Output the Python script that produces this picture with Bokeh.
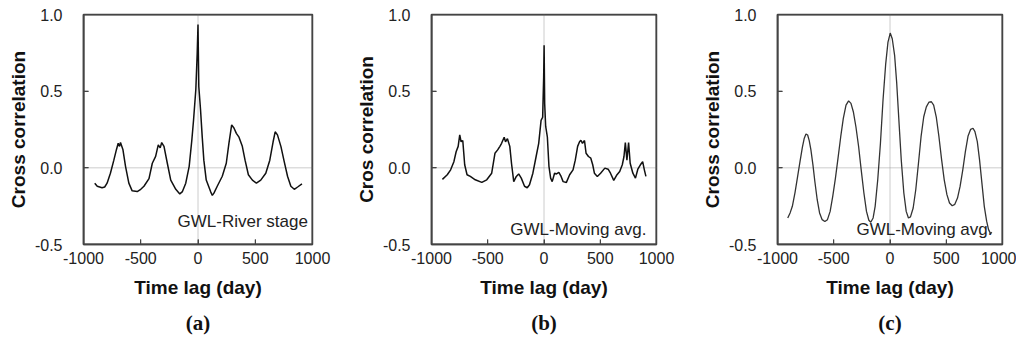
from bokeh.plotting import figure
from bokeh.models import Span, Label, Title, FixedTicker, PrintfTickFormatter, Range1d
from bokeh.layouts import row
from bokeh.embed import file_html
from bokeh.resources import INLINE

# ---------------- data ----------------
x_ticks = [-1000, -500, 0, 500, 1000]
y_ticks = [-0.5, 0.0, 0.5, 1.0]

# (a) GWL - River stage
lag_a = [-902, -880, -838, -815, -794, -765, -735, -712, -697, -685, -677, -656, -633, -604,
         -575, -531, -500, -472, -428, -399, -370, -347, -330, -317, -297, -268, -238, -194,
         -159, -136, -107, -77, -54, -39, -19, -7, 0, 7, 22, 37, 51, 72, 110, 125, 139, 168,
         212, 247, 270, 294, 314, 335, 358, 387, 411, 440, 475, 510, 548, 592, 627, 656, 674,
         694, 724, 753, 782, 811, 841, 870, 908]
cc_a = [-0.10, -0.12, -0.13, -0.125, -0.10, -0.035, 0.05, 0.12, 0.16, 0.14, 0.165, 0.12, 0.01, -0.10,
        -0.15, -0.155, -0.14, -0.12, -0.07, 0.03, 0.075, 0.15, 0.13, 0.165, 0.14, 0.03, -0.08, -0.14,
        -0.17, -0.155, -0.10, 0.01, 0.18, 0.31, 0.51, 0.745, 0.935, 0.53, 0.38, 0.20, 0.05, -0.08,
        -0.155, -0.18, -0.165, -0.12, -0.055, 0.03, 0.16, 0.28, 0.26, 0.225, 0.20, 0.14, 0.05,
        -0.045, -0.08, -0.10, -0.08, -0.035, 0.05, 0.17, 0.235, 0.215, 0.14, 0.04, -0.055, -0.12,
        -0.14, -0.125, -0.105]

# (b) GWL - Moving avg.
lag_b = [-903, -860, -830, -801, -781, -763, -749, -737, -722, -713, -705, -684, -655, -611,
         -553, -509, -465, -436, -412, -392, -377, -354, -342, -325, -304, -289, -269, -246,
         -225, -202, -173, -149, -129, -99, -70, -47, -26, -12, -3, 1, 6, 15, 30, 44, 59, 73,
         94, 111, 132, 152, 170, 199, 228, 258, 278, 299, 316, 328, 342, 360, 374, 395, 416,
         433, 448, 474, 503, 541, 570, 591, 620, 649, 673, 696, 711, 723, 737, 752, 766, 790,
         813, 834, 857, 877, 892, 906]
cc_b = [-0.075, -0.045, -0.013, 0.04, 0.105, 0.14, 0.215, 0.17, 0.178, 0.095, 0.02, -0.045, -0.056, -0.078,
        -0.095, -0.078, -0.035, 0.095, 0.117, 0.14, 0.16, 0.20, 0.17, 0.19, 0.14, 0.03, -0.09, -0.056,
        -0.04, -0.067, -0.12, -0.13, -0.11, -0.035, 0.074, 0.16, 0.31, 0.33, 0.59, 0.80, 0.42, 0.27,
        0.20, 0.01, -0.067, -0.09, -0.035, -0.04, -0.03, -0.056, -0.09, -0.095, -0.045, -0.013, 0.05,
        0.14, 0.17, 0.18, 0.16, 0.178, 0.095, 0.074, 0.063, 0.02, -0.035, -0.056, -0.035, -0.002,
        -0.009, -0.035, -0.082, -0.045, -0.024, 0.02, 0.074, 0.165, 0.05, 0.165, 0.03, -0.035,
        -0.067, -0.009, 0.02, 0.04, -0.013, -0.056]

# (c) GWL - Moving avg. (smoothed)
lag_c = [-909, -888, -868, -844, -821, -800, -779, -762, -747, -732, -718, -703, -685, -668,
         -647, -626, -603, -579, -556, -532, -509, -485, -462, -438, -415, -391, -368, -347,
         -326, -303, -279, -256, -232, -209, -188, -171, -150, -132, -109, -85, -62, -38, -18,
         2, 20, 41, 59, 79, 100, 123, 144, 164, 182, 206, 229, 253, 276, 300, 323, 347, 368,
         388, 411, 435, 459, 482, 506, 529, 553, 576, 600, 623, 647, 670, 694, 717, 738, 755,
         776, 796, 817, 838, 859, 876, 894, 905]
cc_c = [-0.327, -0.294, -0.251, -0.16, -0.056, 0.041, 0.134, 0.193, 0.221, 0.214, 0.177, 0.117, 0.019,
        -0.089, -0.208, -0.294, -0.338, -0.35, -0.338, -0.284, -0.186, -0.067, 0.063, 0.203, 0.323,
        0.409, 0.437, 0.42, 0.366, 0.268, 0.139, -0.013, -0.164, -0.284, -0.342, -0.355, -0.327,
        -0.251, -0.078, 0.16, 0.442, 0.68, 0.82, 0.879, 0.842, 0.734, 0.56, 0.31, 0.052, -0.164,
        -0.284, -0.327, -0.32, -0.262, -0.143, 0.03, 0.203, 0.333, 0.398, 0.429, 0.431, 0.409,
        0.333, 0.203, 0.052, -0.078, -0.175, -0.229, -0.247, -0.238, -0.197, -0.121, -0.013,
        0.106, 0.208, 0.251, 0.258, 0.236, 0.171, 0.052, -0.1, -0.251, -0.348, -0.403, -0.429, -0.42]

x_label = "Time lag (day)"
y_labels = ["Cross correlation", "Cros correlation", "Cross correlation"]
notes = ["GWL-River stage", "GWL-Moving avg.", "GWL-Moving avg."]
letters = ["(a)", "(b)", "(c)"]

X0, X1 = x_ticks[0], x_ticks[-1]
Y0, Y1 = y_ticks[0], y_ticks[-1]
FRAME = "#444444"


def panel(xs, ys, ylabel, note, note_x, note_y, letter, width, left, right, color, lw):
    p = figure(width=width, height=342, x_range=Range1d(X0, X1), y_range=Range1d(Y0, Y1),
               output_backend="svg", toolbar_location=None,
               min_border_left=left, min_border_right=right, min_border_top=14, min_border_bottom=98)
    p.grid.visible = False
    p.outline_line_color = FRAME
    p.outline_line_width = 1.5
    p.background_fill_color = "white"
    p.border_fill_color = "white"

    for sp in (Span(location=0, dimension="width"), Span(location=0, dimension="height")):
        sp.line_color = "#999999"
        sp.line_dash = "1 1"
        sp.line_width = 1
        sp.level = "underlay"
        p.add_layout(sp)

    # frame box drawn along the axis ranges (glyph, so it renders in the svg)
    p.line([X0, X1, X1, X0, X0], [Y0, Y0, Y1, Y1, Y0], line_color=FRAME, line_width=2)
    # inside tick marks (about 5 px long)
    dx = (X1 - X0) * 5 / 229.0
    dy = (Y1 - Y0) * 5 / 230.0
    p.segment(x0=x_ticks[1:-1], y0=[Y0] * 3, x1=x_ticks[1:-1], y1=[Y0 + dy] * 3, line_color=FRAME, line_width=1)
    p.segment(x0=[X0] * 2, y0=y_ticks[1:-1], x1=[X0 + dx] * 2, y1=y_ticks[1:-1], line_color=FRAME, line_width=1)

    p.line(xs, ys, line_color=color, line_width=lw)

    p.xaxis.ticker = FixedTicker(ticks=x_ticks)
    p.yaxis.ticker = FixedTicker(ticks=y_ticks)
    p.xaxis.formatter = PrintfTickFormatter(format="%d")
    p.yaxis.formatter = PrintfTickFormatter(format="%.1f")
    for ax in (p.xaxis[0], p.yaxis[0]):
        ax.axis_line_color = FRAME
        ax.axis_line_width = 1.5
        ax.major_tick_line_color = FRAME
        ax.major_tick_in = 5
        ax.major_tick_out = 0
        ax.minor_tick_in = 0
        ax.minor_tick_out = 0
        ax.major_label_text_font = "Liberation Sans"
        ax.major_label_text_font_size = "16px"
        ax.major_label_text_color = "#222222"
        ax.axis_label_text_font = "Liberation Sans"
        ax.axis_label_text_font_size = "19px"
        ax.axis_label_text_font_style = "bold"
        ax.axis_label_text_color = "#111111"
    p.xaxis.axis_label = x_label
    p.yaxis.axis_label = ylabel
    p.yaxis.major_label_standoff = 21
    p.yaxis.axis_label_standoff = 3
    p.xaxis.major_label_standoff = 7
    p.xaxis.axis_label_standoff = 10

    p.add_layout(Label(x=note_x, y=note_y, text=note, text_align="right", text_baseline="middle",
                       text_font="Liberation Sans", text_font_size="17px", text_color="#222222"))

    p.add_layout(Title(text=letter, align="center", text_font="Liberation Serif",
                       text_font_size="21px", text_font_style="bold", text_color="#111111",
                       standoff=16), "below")
    return p


pa = panel(lag_a, cc_a, y_labels[0], notes[0], 960, -0.35, letters[0], 352, 83, 40, "#111111", 1.5)
pb = panel(lag_b, cc_b, y_labels[1], notes[1], 910, -0.40, letters[1], 346, 75, 42, "#111111", 1.5)
pc = panel(lag_c, cc_c, y_labels[2], notes[2], 911, -0.40, letters[2], 318, 75, 14, "#333333", 1.3)

layout = row(pa, pb, pc)
open("out.html", "w").write(file_html(layout, INLINE))
